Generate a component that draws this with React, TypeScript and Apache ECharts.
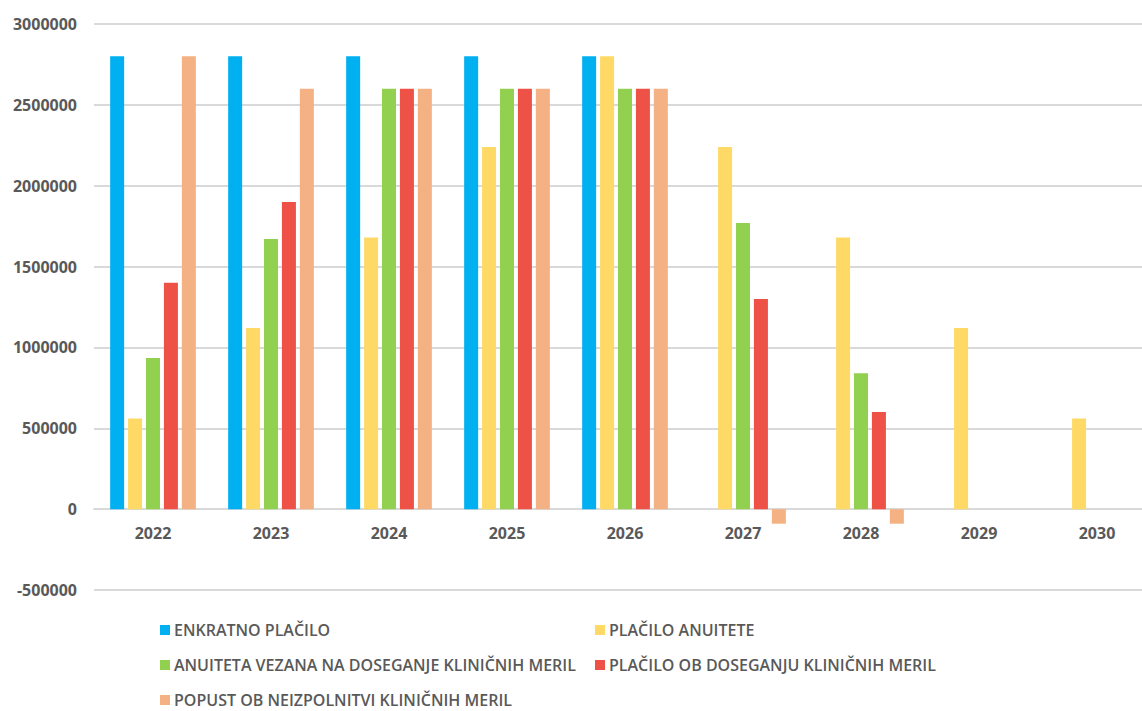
import React, { useEffect, useRef } from "react";
import * as echarts from "echarts";

const categories = ["2022", "2023", "2024", "2025", "2026", "2027", "2028", "2029", "2030"];
const seriesNames = [
  "ENKRATNO PLAČILO",
  "PLAČILO ANUITETE",
  "ANUITETA VEZANA NA DOSEGANJE KLINIČNIH MERIL",
  "PLAČILO OB DOSEGANJU KLINIČNIH MERIL",
  "POPUST OB NEIZPOLNITVI KLINIČNIH MERIL",
];
const enkratno = [2800000, 2800000, 2800000, 2800000, 2800000, 0, 0, 0, 0];
const anuiteta = [560000, 1120000, 1680000, 2240000, 2800000, 2240000, 1680000, 1120000, 560000];
const vezana = [935000, 1670000, 2600000, 2600000, 2600000, 1770000, 840000, 0, 0];
const placiloOb = [1400000, 1900000, 2600000, 2600000, 2600000, 1300000, 600000, 0, 0];
const popust = [2800000, 2600000, 2600000, 2600000, 2600000, -90000, -90000, 0, 0];
const colors = ["#00b0f0", "#ffd966", "#92d050", "#ee5146", "#f4b183"];
const yTicks = { min: -500000, max: 3000000, interval: 500000 };

const fontFamily = "'Open Sans', sans-serif";

export default function App() {
  const ref = useRef<HTMLDivElement>(null);
  useEffect(() => {
    if (!ref.current) return;
    const chart = echarts.init(ref.current, undefined, { renderer: "svg" });
    const data = [enkratno, anuiteta, vezana, placiloOb, popust];
    const legendPos = [
      { left: 160, top: 622 },
      { left: 595, top: 622 },
      { left: 160, top: 657 },
      { left: 595, top: 657 },
      { left: 160, top: 692 },
    ];
    chart.setOption({
      animation: false,
      color: colors,
      grid: { left: 94, right: 0, top: 24, bottom: 121 },
      legend: seriesNames.map((n, i) => ({
        data: [n],
        left: legendPos[i].left,
        top: legendPos[i].top,
        icon: "rect",
        itemWidth: 10,
        itemHeight: 10,
        itemGap: 4,
        textStyle: { color: "#595959", fontSize: 16, fontFamily, fontWeight: 600, padding: [0, 0, 0, -1] },
        padding: 0,
      })),
      xAxis: {
        type: "category",
        data: categories,
        offset: -81,
        axisLine: { onZero: false, lineStyle: { color: "#d9d9d9", width: 2 } },
        axisTick: { show: false },
        axisLabel: { color: "#595959", fontSize: 16, fontWeight: "bold", fontFamily, margin: 16 },
      },
      yAxis: {
        type: "value",
        min: yTicks.min,
        max: yTicks.max,
        interval: yTicks.interval,
        splitLine: { lineStyle: { color: "#d9d9d9", width: 2 } },
        axisLine: { show: false },
        axisLabel: {
          color: "#595959",
          fontSize: 16,
          fontWeight: "bold",
          fontFamily,
          margin: 17,
          formatter: (v: number) => String(v),
        },
      },
      series: seriesNames.map((n, i) => ({
        name: n,
        type: "bar",
        data: data[i],
        barWidth: 14,
        barGap: "28%",
        itemStyle: { color: colors[i] },
      })),
    });
    return () => chart.dispose();
  }, []);
  return (
    <div style={{ position: "absolute", left: 0, top: 0, width: 1142, height: 711, overflow: "hidden" }}>
      <div ref={ref} style={{ width: 1156, height: 711 }} />
    </div>
  );
}
